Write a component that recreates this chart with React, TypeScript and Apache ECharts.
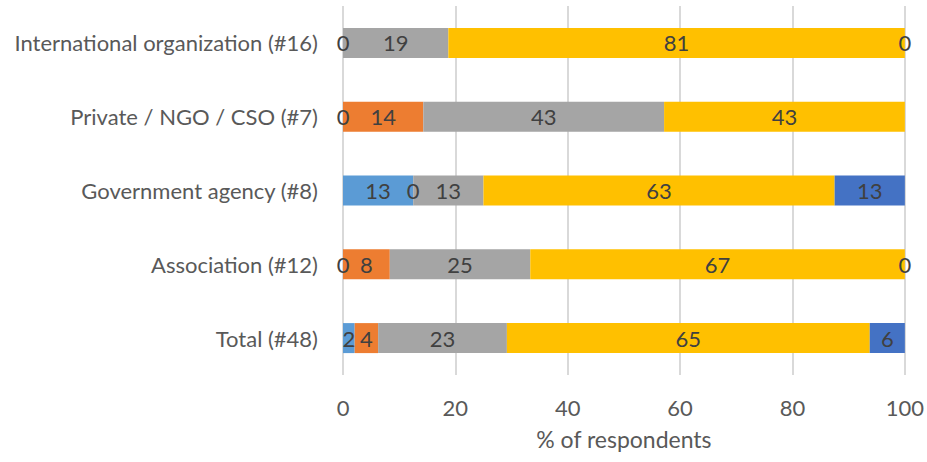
import React, { useEffect, useRef } from "react";
import * as echarts from "echarts";

const categories = [
  "Total (#48)",
  "Association (#12)",
  "Government agency (#8)",
  "Private / NGO / CSO (#7)",
  "International organization (#16)",
];
const seriesLightBlue: (number | null)[] = [2.08, 0, 12.5, 0, 0];
const seriesOrange: (number | null)[] = [4.17, 8.33, 0, 14.29, null];
const seriesGray: (number | null)[] = [22.92, 25, 12.5, 42.86, 18.75];
const seriesGold: (number | null)[] = [64.58, 66.67, 62.5, 42.86, 81.25];
const seriesDarkBlue: (number | null)[] = [6.25, 0, 12.5, null, 0];
const xTicks = [0, 20, 40, 60, 80, 100];

const colors = ["#5B9BD5", "#ED7D31", "#A5A5A5", "#FFC000", "#4472C4"];
const FONT = "Lato";
const FS = 22;

export default function App() {
  const ref = useRef<HTMLDivElement>(null);
  useEffect(() => {
    if (!ref.current) return;
    const chart = echarts.init(ref.current, undefined, { renderer: "svg" });
    const all = [seriesLightBlue, seriesOrange, seriesGray, seriesGold, seriesDarkBlue];
    chart.setOption({
      animation: false,
      grid: { left: 343, right: 22, top: 6, bottom: 87, containLabel: false },
      xAxis: {
        type: "value",
        min: xTicks[0],
        max: xTicks[xTicks.length - 1],
        interval: 20,
        name: "% of respondents",
        nameLocation: "middle",
        nameGap: 52,
        nameTextStyle: { fontFamily: FONT, fontSize: 23, color: "#595959" },
        axisLine: { show: false },
        axisTick: { show: false },
        axisLabel: { fontFamily: FONT, fontSize: FS, color: "#595959", margin: 21 },
        splitLine: { show: true, lineStyle: { color: "#D9D9D9", width: 2 } },
      },
      yAxis: {
        type: "category",
        data: categories,
        axisLine: { show: false },
        axisTick: { show: false },
        axisLabel: { fontFamily: FONT, fontSize: FS, color: "#595959", margin: 25 },
        splitLine: { show: false },
      },
      series: all.map((d, i) => ({
        type: "bar",
        stack: "total",
        data: d,
        barWidth: 30,
        itemStyle: { color: colors[i] },
        label: {
          show: true,
          position: "inside",
          fontFamily: FONT,
          fontSize: FS,
          color: "#404040",
          formatter: (p: any) => (p.value == null ? "" : String(Math.round(p.value))),
        },
        emphasis: { disabled: true },
      })),
    });
    return () => chart.dispose();
  }, []);
  return (
    <div
      ref={ref}
      style={{ position: "fixed", left: 0, top: 0, width: 927, height: 462, background: "#fff" }}
    />
  );
}
